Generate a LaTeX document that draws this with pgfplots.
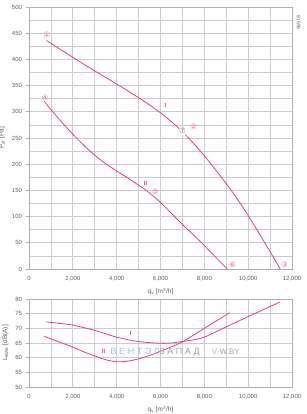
\documentclass[border=0pt]{standalone}
\usepackage{fontspec}
\setmainfont{Liberation Sans}
\newfontfamily\dejavu{DejaVu Sans}
\newfontfamily\wmfont[LetterSpace=28]{Liberation Sans}
\usepackage{pgfplots}
\pgfplotsset{compat=1.18}
\definecolor{curve}{RGB}{232,58,145}
\definecolor{mk}{RGB}{238,100,165}
\definecolor{gridc}{RGB}{204,204,204}
\definecolor{axc}{RGB}{175,175,175}
\definecolor{tickc}{RGB}{95,95,95}
\definecolor{wmblue}{RGB}{140,198,236}
\definecolor{wmgray}{RGB}{160,160,160}
\pgfplotsset{
 common/.style={
  scale only axis, width=263pt,
  xmin=0, xmax=12000,
  xtick={0,2000,...,12000},
  minor xtick={1000,3000,...,11000},
  scaled x ticks=false,
  grid=both,
  major grid style={gridc, line width=0.7pt},
  minor grid style={gridc, line width=0.7pt},
  axis line style={axc, line width=0.7pt},
  tick align=outside, tick pos=left,
  major tick length=3.5pt,
  xtick style={draw=none},
  ytick style={axc, line width=0.6pt},
  minor tick length=0pt,
  ticklabel style={font=\fontsize{6}{7}\selectfont, text=tickc},
  label style={font=\fontsize{6.5}{7.5}\selectfont, text=tickc},
  /pgf/number format/assume math mode=true,
  /pgf/number format/1000 sep={,},
  xlabel={q\textsubscript{v} [m\textsuperscript{3}/h]},
 },
 crv/.style={curve, line width=0.8pt, smooth, mark=none},
}
\begin{document}
\begin{tikzpicture}[x=1pt,y=1pt]
\path[use as bounding box] (0,0) rectangle (306,414);
\begin{axis}[common,
  at={(29pt,145pt)}, anchor=south west, height=262pt,
  ymin=0, ymax=500, ytick={0,50,...,500}, minor ytick={25,75,...,475},
  ylabel={P\textsubscript{sf} [Pa]},
  clip=false]
\addplot[crv] coordinates {
(800,436) (2000,404) (3000,378) (4000,353) (5000,327) (5500,313) (6000,298)
(6500,281) (7000,262) (7500,240) (8000,216) (8500,190) (9000,163) (9500,134)
(10000,102) (10500,68) (11000,33) (11460,0)};
\addplot[crv] coordinates {
(700,320) (1000,304) (1500,280) (2000,257) (2500,236) (3000,217) (3500,201)
(4000,187) (4500,174) (5000,160) (5500,145) (6000,127) (6500,106) (7000,85)
(7500,65) (8000,45) (8500,23) (9050,0)};
\begin{scope}[font=\dejavu\fontsize{7.5}{7.5}\selectfont]
\node[mk] at (axis cs:820,447) {①};
\node[mk] at (axis cs:7500,271) {②};
\node[text=gray!80!black, fill=white, circle, inner sep=0pt] at (axis cs:7000,263) {⑦};
\node[mk] at (axis cs:727,326) {④};
\node[mk] at (axis cs:5773,147) {⑤};
\node[mk] at (axis cs:9300,8) {⑥};
\node[mk] at (axis cs:11660,8) {③};
\end{scope}
\node[curve, font=\fontsize{6}{6}\selectfont\bfseries] at (axis cs:6230,313) {I};
\node[curve, font=\fontsize{6}{6}\selectfont\bfseries] at (axis cs:5320,163) {II};
\node[rotate=-90, text=tickc, font=\fontsize{5}{5}\selectfont] at (axis cs:12300,470) {81595};
\end{axis}
\begin{axis}[common,
  at={(29pt,27pt)}, anchor=south west, height=88pt,
  ymin=50, ymax=80, ytick={50,55,...,80},
  ylabel={L\textsubscript{WA6} [dB(A)]},
  clip=false]
\addplot[crv] coordinates {
(800,72.2) (1500,71.6) (2000,71.1) (3000,69.3) (4000,67.0) (5000,65.5)
(6000,64.9) (6500,65.0) (7000,65.5) (7500,66.1) (8000,67.0) (9000,70.5)
(10000,74.0) (11460,79.0)};
\addplot[crv] coordinates {
(700,67.3) (1000,66.4) (1500,65.0) (2000,63.6) (2500,62.0) (3000,60.6)
(3500,59.3) (4000,58.6) (4500,58.8) (5000,59.6) (5600,61.0) (6000,62.2)
(6500,63.7) (7000,65.4) (8000,70.0) (9150,75.3)};
\node[curve, font=\fontsize{6}{6}\selectfont\bfseries] at (axis cs:4640,68.4) {I};
\node[curve, font=\fontsize{6}{6}\selectfont\bfseries] at (axis cs:3400,62) {II};
\node[anchor=west, inner sep=0pt, font=\wmfont\fontsize{9}{9}\selectfont] at (axis cs:3720,62)
  {\textcolor{wmblue}{ВЕНТЭЛ}\textcolor{wmgray}{ЗАПАД}};
\node[anchor=west, inner sep=0pt, font=\fontsize{8}{8}\selectfont] at (axis cs:8330,62)
  {\textcolor{wmblue}{V}\textcolor{wmgray}{-W.BY}};
\end{axis}
\end{tikzpicture}
\end{document}
